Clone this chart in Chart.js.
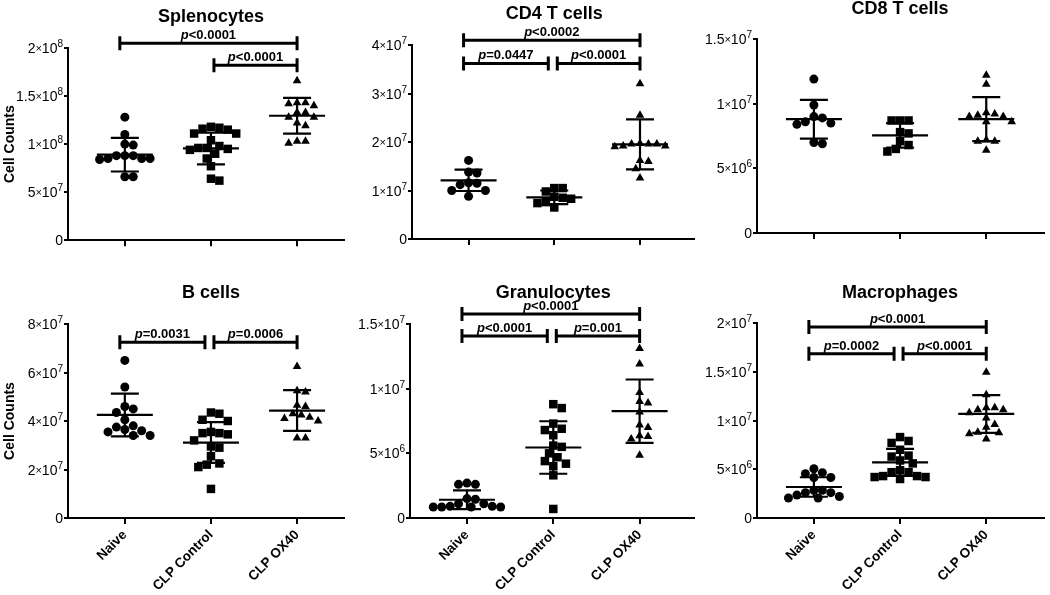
<!DOCTYPE html>
<html>
<head>
<meta charset="utf-8">
<script src="https://cdn.jsdelivr.net/npm/chart.js@4.4.0/dist/chart.umd.min.js"></script>
<style>
  body { margin: 0; background: #fff; width: 1050px; height: 595px; position: relative; overflow: hidden; }
  canvas { position: absolute; }
</style>
</head>
<body>
<canvas id="c1" style="left:0px;top:0px"></canvas>
<canvas id="c2" style="left:350px;top:0px"></canvas>
<canvas id="c3" style="left:700px;top:0px"></canvas>
<canvas id="c4" style="left:0px;top:250px"></canvas>
<canvas id="c5" style="left:350px;top:250px"></canvas>
<canvas id="c6" style="left:700px;top:250px"></canvas>
<script>
const categories = ['Naive', 'CLP Control', 'CLP OX40'];

// Splenocytes
const splenoNaive = [1.28e8, 1.10e8, 0.99e8, 1.00e8, 0.88e8, 0.85e8, 0.84e8, 0.88e8, 0.85e8, 0.85e8, 0.88e8, 0.66e8, 0.66e8];
const splenoControl = [1.17e8, 1.16e8, 1.15e8, 1.18e8, 1.11e8, 1.11e8, 1.04e8, 0.98e8, 0.96e8, 0.94e8, 0.95e8, 0.96e8, 0.90e8, 0.85e8, 0.77e8, 0.64e8, 0.62e8];
const splenoOx40 = [1.66e8, 1.43e8, 1.42e8, 1.40e8, 1.43e8, 1.33e8, 1.33e8, 1.28e8, 1.28e8, 1.22e8, 1.19e8, 1.03e8, 1.01e8, 1.03e8];
const splenoMean = [0.89e8, 0.955e8, 1.295e8];
const splenoSD = [0.175e8, 0.165e8, 0.185e8];
const splenoTicks = ['0', '5×10⁷', '1×10⁸', '1.5×10⁸', '2×10⁸'];
const splenoBrackets = [
  { from: 0, to: 2, y: 2.05e8, text: 'p<0.0001' },
  { from: 1, to: 2, y: 1.82e8, text: 'p<0.0001' }
];

// CD4 T cells
const cd4Naive = [1.62e7, 1.36e7, 1.38e7, 1.15e7, 1.12e7, 1.16e7, 1.00e7, 1.00e7, 0.88e7];
const cd4Control = [1.05e7, 1.05e7, 0.98e7, 0.87e7, 0.85e7, 0.83e7, 0.76e7, 0.74e7, 0.65e7];
const cd4Ox40 = [3.2e7, 2.55e7, 1.97e7, 1.96e7, 1.92e7, 1.92e7, 1.96e7, 1.96e7, 1.90e7, 1.62e7, 1.60e7, 1.45e7, 1.26e7];
const cd4Mean = [1.21e7, 0.86e7, 1.95e7];
const cd4SD = [0.22e7, 0.14e7, 0.515e7];
const cd4Ticks = ['0', '1×10⁷', '2×10⁷', '3×10⁷', '4×10⁷'];
const cd4Brackets = [
  { from: 0, to: 2, y: 4.1e7, text: 'p<0.0002' },
  { from: 0, to: 1, y: 3.62e7, text: 'p=0.0447' },
  { from: 1, to: 2, y: 3.62e7, text: 'p<0.0001' }
];

// CD8 T cells
const cd8Naive = [1.19e7, 0.99e7, 0.90e7, 0.89e7, 0.84e7, 0.85e7, 0.86e7, 0.69e7, 0.70e7];
const cd8Control = [0.87e7, 0.87e7, 0.87e7, 0.78e7, 0.77e7, 0.71e7, 0.68e7, 0.63e7, 0.65e7];
const cd8Ox40 = [1.22e7, 1.15e7, 0.92e7, 0.90e7, 0.93e7, 0.90e7, 0.91e7, 0.86e7, 0.86e7, 0.71e7, 0.72e7, 0.71e7, 0.64e7];
const cd8Mean = [0.88e7, 0.755e7, 0.88e7];
const cd8SD = [0.15e7, 0.095e7, 0.17e7];
const cd8Ticks = ['0', '5×10⁶', '1×10⁷', '1.5×10⁷'];
const cd8Brackets = [];

// B cells
const bNaive = [6.5e7, 5.4e7, 4.6e7, 4.5e7, 4.35e7, 4.05e7, 3.8e7, 3.55e7, 3.6e7, 3.75e7, 3.65e7, 3.4e7, 3.4e7];
const bControl = [4.35e7, 4.3e7, 4.05e7, 4.0e7, 3.55e7, 3.45e7, 3.5e7, 3.5e7, 3.2e7, 2.95e7, 2.9e7, 2.55e7, 2.25e7, 2.1e7, 2.2e7, 1.2e7];
const bOx40 = [6.25e7, 5.25e7, 5.2e7, 4.6e7, 4.65e7, 4.25e7, 4.1e7, 4.0e7, 4.15e7, 4.3e7, 3.3e7, 3.3e7];
const bMean = [4.25e7, 3.11e7, 4.43e7];
const bSD = [0.88e7, 0.84e7, 0.84e7];
const bTicks = ['0', '2×10⁷', '4×10⁷', '6×10⁷', '8×10⁷'];
const bBrackets = [
  { from: 0, to: 1, y: 7.25e7, text: 'p=0.0031' },
  { from: 1, to: 2, y: 7.25e7, text: 'p=0.0006' }
];

// Granulocytes
const granNaive = [2.7e6, 2.6e6, 2.6e6, 1.5e6, 1.45e6, 1.1e6, 0.85e6, 0.85e6, 0.85e6, 0.85e6, 0.9e6, 0.9e6, 1.1e6];
const granControl = [8.8e6, 8.5e6, 7.3e6, 6.8e6, 6.9e6, 6.4e6, 5.6e6, 5.5e6, 5.0e6, 4.4e6, 4.7e6, 4.2e6, 4.0e6, 3.3e6, 0.7e6];
const granOx40 = [13.1e6, 11.9e6, 9.7e6, 8.9e6, 9.0e6, 8.2e6, 7.0e6, 7.2e6, 6.3e6, 6.1e6, 6.35e6, 4.85e6];
const granMean = [1.41e6, 5.45e6, 8.26e6];
const granSD = [0.72e6, 2.03e6, 2.45e6];
const granTicks = ['0', '5×10⁶', '1×10⁷', '1.5×10⁷'];
const granBrackets = [
  { from: 0, to: 2, y: 1.577e7, text: 'p<0.0001' },
  { from: 0, to: 1, y: 1.407e7, text: 'p<0.0001' },
  { from: 1, to: 2, y: 1.407e7, text: 'p=0.001' }
];

// Macrophages
const macNaive = [5.05e6, 4.65e6, 4.55e6, 4.15e6, 4.15e6, 2.85e6, 2.6e6, 2.35e6, 2.05e6, 2.05e6, 2.2e6, 2.6e6, 2.85e6];
const macControl = [8.3e6, 7.9e6, 7.7e6, 7.0e6, 6.4e6, 6.3e6, 5.9e6, 5.6e6, 4.9e6, 4.7e6, 4.3e6, 4.2e6, 4.2e6, 4.3e6, 4.7e6, 4.0e6];
const macOx40 = [14.95e6, 12.65e6, 11.3e6, 11.1e6, 11.1e6, 11.3e6, 10.8e6, 10.25e6, 9.6e6, 9.3e6, 8.8e6, 8.75e6, 8.65e6, 8.1e6];
const macMean = [3.18e6, 5.7e6, 10.67e6];
const macSD = [1.0e6, 1.38e6, 1.93e6];
const macTicks = ['0', '5×10⁶', '1×10⁷', '1.5×10⁷', '2×10⁷'];
const macBrackets = [
  { from: 0, to: 2, y: 1.96e7, text: 'p<0.0001' },
  { from: 0, to: 1, y: 1.685e7, text: 'p=0.0002' },
  { from: 1, to: 2, y: 1.685e7, text: 'p<0.0001' }
];

const FONT = "'Liberation Sans', Arial, sans-serif";
const shapes = ['circle', 'rect', 'triangle'];
const radii = [4.5, 6, 5];
const SUP = { '⁰': '0', '¹': '1', '²': '2', '³': '3', '⁴': '4', '⁵': '5', '⁶': '6', '⁷': '7', '⁸': '8', '⁹': '9' };

const panels = [
  { id: 'c1', title: 'Splenocytes', groups: [splenoNaive, splenoControl, splenoOx40], mean: splenoMean, sd: splenoSD,
    yMax: 2e8, step: 5e7, ticks: splenoTicks, brackets: splenoBrackets, yTitle: true, xLabels: false,
    w: 350, h: 250, top: 48, yW: 68, xH: 8, right: 0, xMax: 2.545, titleY: 17 },
  { id: 'c2', title: 'CD4 T cells', groups: [cd4Naive, cd4Control, cd4Ox40], mean: cd4Mean, sd: cd4SD,
    yMax: 4e7, step: 1e7, ticks: cd4Ticks, brackets: cd4Brackets, yTitle: false, xLabels: false,
    w: 350, h: 250, top: 45, yW: 62, xH: 11, right: 0, xMax: 2.63, titleY: 14 },
  { id: 'c3', title: 'CD8 T cells', groups: [cd8Naive, cd8Control, cd8Ox40], mean: cd8Mean, sd: cd8SD,
    yMax: 1.5e7, step: 5e6, ticks: cd8Ticks, brackets: cd8Brackets, yTitle: false, xLabels: false,
    w: 350, h: 250, top: 39, yW: 57, xH: 17, right: 2, xMax: 2.67, titleY: 9 },
  { id: 'c4', title: 'B cells', groups: [bNaive, bControl, bOx40], mean: bMean, sd: bSD,
    yMax: 8e7, step: 2e7, ticks: bTicks, brackets: bBrackets, yTitle: true, xLabels: true,
    w: 350, h: 345, top: 74, yW: 68, xH: 77, right: 0, xMax: 2.545, titleY: 43 },
  { id: 'c5', title: 'Granulocytes', groups: [granNaive, granControl, granOx40], mean: granMean, sd: granSD,
    yMax: 1.5e7, step: 5e6, ticks: granTicks, brackets: granBrackets, yTitle: false, xLabels: true,
    w: 350, h: 345, top: 74, yW: 60, xH: 77, right: 0, xMax: 2.63, titleY: 43 },
  { id: 'c6', title: 'Macrophages', groups: [macNaive, macControl, macOx40], mean: macMean, sd: macSD,
    yMax: 2e7, step: 5e6, ticks: macTicks, brackets: macBrackets, yTitle: false, xLabels: true,
    w: 350, h: 345, top: 73, yW: 57, xH: 77, right: 2, xMax: 2.67, titleY: 43 }
];

const X_MIN = -0.66;

// spread points of similar value sideways (beeswarm), in pixel space
function swarm(vals, pxY, pxX) {
  const d = 8.6;
  const order = vals.map((v, i) => i).sort((a, b) => vals[b] - vals[a]);
  const placed = [];
  const off = new Array(vals.length).fill(0);
  order.forEach(i => {
    const py = vals[i] * pxY;
    const cands = [0];
    for (let k = 1; k < 12; k++) { cands.push(k * d / 2, -k * d / 2); }
    for (const cx of cands) {
      const ok = placed.every(p => Math.hypot(p.x - cx, p.y - py) >= d - 0.1);
      if (ok) { off[i] = cx; placed.push({ x: cx, y: py }); break; }
    }
  });
  return off.map(o => o / pxX);
}

// tick label like 1.5×10⁷ drawn with a real raised exponent
function drawSci(ctx, label, xr, y) {
  const m = label.match(/^(.*)×10(.)$/);
  ctx.textAlign = 'left';
  ctx.textBaseline = 'alphabetic';
  if (!m) {
    ctx.font = '14px ' + FONT;
    const w = ctx.measureText(label).width;
    ctx.fillText(label, xr - w, y + 5);
    return;
  }
  const parts = [
    { t: m[1], f: '14px ' + FONT, dy: 5 },
    { t: '×', f: '11px ' + FONT, dy: 4 },
    { t: '10', f: '14px ' + FONT, dy: 5 },
    { t: SUP[m[2]], f: '10px ' + FONT, dy: -1 }
  ];
  let total = 0;
  parts.forEach(pt => { ctx.font = pt.f; pt.w = ctx.measureText(pt.t).width; total += pt.w; });
  let x = xr - total;
  parts.forEach(pt => { ctx.font = pt.f; ctx.fillText(pt.t, x, y + pt.dy); x += pt.w; });
}

const overlay = {
  id: 'overlay',
  afterDatasetsDraw(chart, args, opts) {
    const p = opts.panel;
    const ctx = chart.ctx;
    const xs = chart.scales.x, ys = chart.scales.y;
    ctx.save();
    ctx.strokeStyle = '#000';
    ctx.fillStyle = '#000';
    // y tick labels
    ys.ticks.forEach((t, i) => {
      drawSci(ctx, p.ticks[i], ys.right - 5, ys.getPixelForValue(t.value));
    });
    // mean and SD
    ctx.lineWidth = 2.2;
    p.mean.forEach((m, i) => {
      const x = xs.getPixelForValue(i);
      const ym = ys.getPixelForValue(m);
      const yh = ys.getPixelForValue(m + p.sd[i]);
      const yl = ys.getPixelForValue(m - p.sd[i]);
      ctx.beginPath();
      ctx.moveTo(x - 28, ym); ctx.lineTo(x + 28, ym);
      ctx.moveTo(x, yh); ctx.lineTo(x, yl);
      ctx.moveTo(x - 14, yh); ctx.lineTo(x + 14, yh);
      ctx.moveTo(x - 14, yl); ctx.lineTo(x + 14, yl);
      ctx.stroke();
    });
    // significance brackets
    ctx.lineWidth = 3;
    p.brackets.forEach(b => {
      const y = ys.getPixelForValue(b.y);
      const x1 = xs.getPixelForValue(b.from) + (b.from === 1 ? 3 : -5);
      const x2 = xs.getPixelForValue(b.to) + (b.to === 1 ? -6 : 0);
      ctx.beginPath();
      ctx.moveTo(x1, y); ctx.lineTo(x2, y);
      ctx.moveTo(x1, y - 7); ctx.lineTo(x1, y + 7);
      ctx.moveTo(x2, y - 7); ctx.lineTo(x2, y + 7);
      ctx.stroke();
      const head = b.text.charAt(0), rest = b.text.slice(1);
      ctx.font = 'italic bold 13px ' + FONT;
      const w1 = ctx.measureText(head).width;
      ctx.font = 'bold 13px ' + FONT;
      const w2 = ctx.measureText(rest).width;
      const tx = (x1 + x2) / 2 - (w1 + w2) / 2;
      ctx.textBaseline = 'alphabetic';
      ctx.textAlign = 'left';
      ctx.font = 'italic bold 13px ' + FONT;
      ctx.fillText(head, tx, y - 4);
      ctx.font = 'bold 13px ' + FONT;
      ctx.fillText(rest, tx + w1, y - 4);
    });
    // panel title
    ctx.font = 'bold 18px ' + FONT;
    ctx.textAlign = 'center';
    ctx.textBaseline = 'middle';
    ctx.fillText(p.title, xs.getPixelForValue(1), p.titleY);
    ctx.restore();
  }
};

panels.forEach(p => {
  const canvas = document.getElementById(p.id);
  canvas.width = p.w; canvas.height = p.h;
  canvas.style.width = p.w + 'px'; canvas.style.height = p.h + 'px';
  const plotH = p.h - p.top - p.xH;
  const pxY = plotH / p.yMax;
  const pxX = (p.w - p.yW - p.right) / (p.xMax - X_MIN);

  const datasets = p.groups.map((vals, i) => {
    const off = swarm(vals, pxY, pxX);
    return {
      label: categories[i],
      data: vals.map((v, k) => ({ x: i + off[k], y: v })),
      pointStyle: shapes[i],
      pointRadius: radii[i],
      backgroundColor: '#000',
      borderColor: '#000',
      borderWidth: 0,
      showLine: false,
      clip: false
    };
  });

  new Chart(canvas, {
    type: 'scatter',
    data: { datasets: datasets },
    options: {
      responsive: false,
      animation: false,
      layout: { padding: { top: p.top, right: p.right, left: 0, bottom: 0 } },
      plugins: {
        legend: { display: false },
        tooltip: { enabled: false },
        overlay: { panel: p }
      },
      scales: {
        x: {
          type: 'linear',
          min: X_MIN,
          max: p.xMax,
          afterBuildTicks: s => { s.ticks = [{ value: 0 }, { value: 1 }, { value: 2 }]; },
          afterFit: s => { s.height = p.xH; },
          grid: { display: true, drawOnChartArea: false, drawTicks: true, tickLength: 6, color: '#000', lineWidth: 2 },
          border: { display: true, color: '#000', width: 2 },
          ticks: {
            autoSkip: false,
            minRotation: 45,
            maxRotation: 45,
            padding: 3,
            color: '#000',
            font: { family: FONT, size: 13.5, weight: 'bold' },
            callback: v => p.xLabels ? categories[Math.round(v)] : ''
          }
        },
        y: {
          min: 0,
          max: p.yMax,
          afterFit: s => { s.width = p.yW; },
          grid: { display: true, drawOnChartArea: false, drawTicks: true, tickLength: 4, color: '#000', lineWidth: 2 },
          border: { display: true, color: '#000', width: 2 },
          ticks: {
            stepSize: p.step,
            padding: 2,
            color: 'rgba(0,0,0,0)',
            font: { family: FONT, size: 13 },
            callback: (v, i) => p.ticks[i]
          },
          title: {
            display: p.yTitle,
            text: 'Cell Counts',
            color: '#000',
            font: { family: FONT, size: 14, weight: 'bold' },
            padding: { top: 2, bottom: 0 }
          }
        }
      }
    },
    plugins: [overlay]
  });
});
</script>
</body>
</html>
